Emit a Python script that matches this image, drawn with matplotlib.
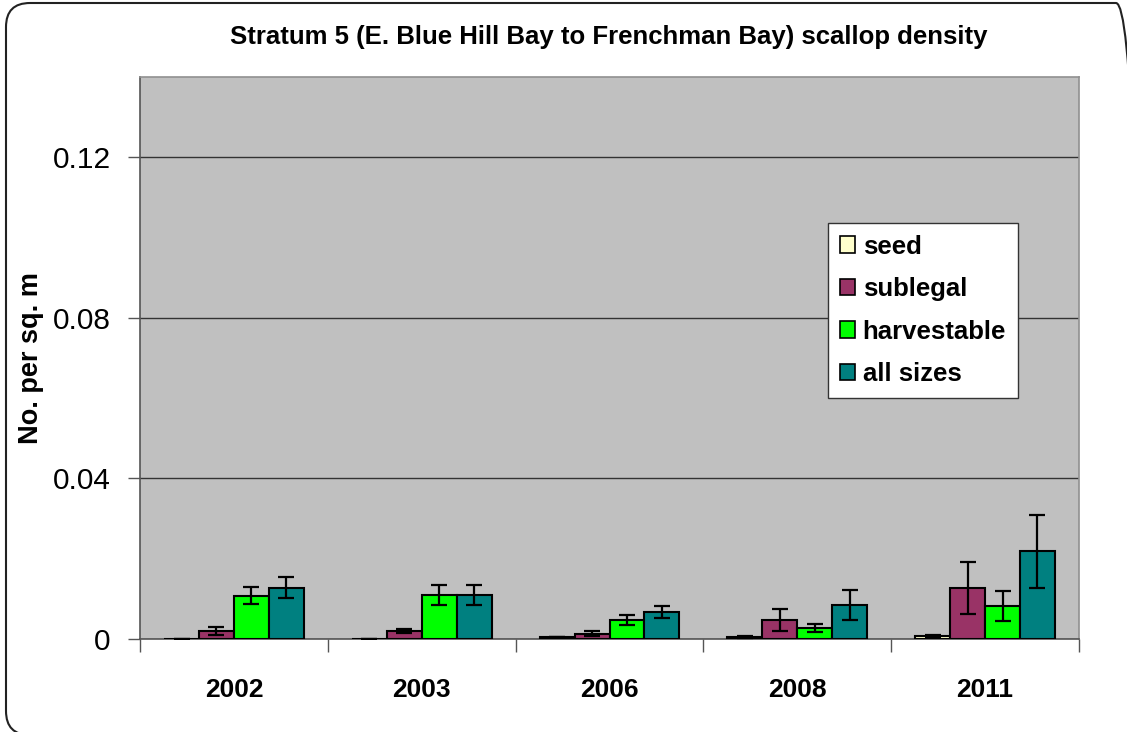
import matplotlib
matplotlib.use("Agg")
import matplotlib.pyplot as plt
import numpy as np
from matplotlib.patches import FancyBboxPatch, Patch
from matplotlib.transforms import IdentityTransform

plt.rcParams['font.family'] = ['Liberation Sans', 'DejaVu Sans']

years = ['2002', '2003', '2006', '2008', '2011']
series = ['seed', 'sublegal', 'harvestable', 'all sizes']
seed = [0.0001, 0.0001, 0.0004, 0.0005, 0.0008]
seed_err = [0.0, 0.0, 0.0, 0.0003, 0.0003]
sublegal = [0.0020, 0.0020, 0.0013, 0.0048, 0.0128]
sublegal_err = [0.0011, 0.0006, 0.0006, 0.0027, 0.0065]
harvestable = [0.0108, 0.0109, 0.0048, 0.0028, 0.0083]
harvestable_err = [0.0021, 0.0025, 0.0013, 0.0010, 0.0037]
all_sizes = [0.0128, 0.0109, 0.0068, 0.0084, 0.0218]
all_sizes_err = [0.0026, 0.0025, 0.0015, 0.0037, 0.0090]
colors = ['#FFFFCC', '#993366', '#00FF00', '#008080']
yticks = [0, 0.04, 0.08, 0.12]
ytick_labels = ['0', '0.04', '0.08', '0.12']

values = [seed, sublegal, harvestable, all_sizes]
errors = [seed_err, sublegal_err, harvestable_err, all_sizes_err]

fig = plt.figure(figsize=(11.27, 7.32), dpi=100)
ax = fig.add_axes([140/1127, 93/732, 939/1127, 562/732])
ax.set_facecolor('#C0C0C0')

x = np.arange(len(years))
w = 0.186
handles = []
for j, (vals, errs, c, name) in enumerate(zip(values, errors, colors, series)):
    pos = x + (j - 1.5) * w
    ax.bar(pos, vals, width=w, color=c, edgecolor='black', linewidth=1.5, zorder=3)
    ax.errorbar(pos, vals, yerr=errs, fmt='none', ecolor='black', elinewidth=1.6,
                capsize=5.5, capthick=1.6, zorder=4)
    handles.append(Patch(facecolor=c, edgecolor='black', linewidth=1.2, label=name))

ax.set_xlim(-0.5, len(years) - 0.5)
ax.set_ylim(0, 0.14)
ax.set_yticks(yticks)
ax.set_yticklabels(ytick_labels, fontsize=21.5)
ax.yaxis.grid(True, color='#333333', linewidth=1.0, zorder=1)
ax.set_axisbelow(True)

ax.set_xticks(x)
ax.set_xticklabels(years, fontsize=19, fontweight='bold')
ax.set_xticks(np.arange(-0.5, len(years)), minor=True)
ax.tick_params(axis='x', which='major', length=0, pad=28)
ax.tick_params(axis='x', which='minor', length=9, width=1, color='#555555')
ax.tick_params(axis='y', length=9, width=1, color='#555555', pad=12)

for s in ['top', 'right']:
    ax.spines[s].set_color('#909090')
    ax.spines[s].set_linewidth(1.2)
for s in ['left', 'bottom']:
    ax.spines[s].set_color('#555555')
    ax.spines[s].set_linewidth(1.2)

ax.set_ylabel('No. per sq. m', fontsize=19.5, fontweight='bold', labelpad=6)
fig.text(0.5405, 1 - 37/732, 'Stratum 5 (E. Blue Hill Bay to Frenchman Bay) scallop density',
         ha='center', va='center', fontsize=18.5, fontweight='bold')

leg = ax.legend(handles=handles, loc='upper left', bbox_to_anchor=((828-140)/939, (639-223)/562),
                prop={'weight': 'bold', 'size': 18.5}, frameon=True, fancybox=False,
                edgecolor='#333333', framealpha=1, handlelength=0.6, handleheight=0.6,
                handletextpad=0.3, labelspacing=0.72, borderpad=0.45, borderaxespad=0)
leg.get_frame().set_linewidth(1.0)

border = FancyBboxPatch((6, -3), 1134, 732, boxstyle='round,pad=0,rounding_size=24',
                        transform=IdentityTransform(), facecolor='none', edgecolor='#222222',
                        linewidth=1.5, clip_on=False)
fig.patches.append(border)

fig.savefig('out.png', dpi=100)
